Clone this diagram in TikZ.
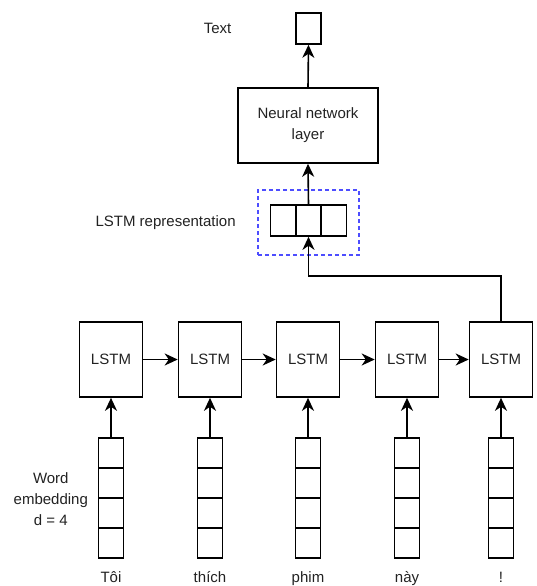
\documentclass[tikz,border=0pt]{standalone}
\usepackage{fontspec}
\setmainfont{Liberation Sans}
\usepackage{xcolor}
\usetikzlibrary{arrows.meta,positioning,calc}
\definecolor{FrameBlue}{HTML}{4D4DFF}
\definecolor{Ink}{HTML}{222222}

\begin{document}
\begin{tikzpicture}[x=1pt, y=-1pt, line width=1.6pt,
    lbl/.style={font=\fontsize{15}{21}\selectfont, text=Ink, align=center, inner sep=0pt},
    cell/.style={draw, minimum width=25pt, minimum height=30pt, inner sep=0pt},
    lstmbox/.style={draw, minimum width=63pt, minimum height=75pt, text=Ink, font=\fontsize{15}{18}\selectfont},
    arr/.style={-{Stealth[length=13pt, width=12pt, inset=4pt]}}]
  \useasboundingbox (0,0) rectangle (537,586);

  % LSTM cells, the embedding columns under them and the words
  \foreach \i/\x/\w in {1/111/Tôi, 2/210/thích, 3/308/phim, 4/407/này, 5/501/!} {
    \node[lstmbox] (l\i) at (\x,359.5) {LSTM};
    \foreach \j in {1,...,4}
      \node[cell] (e\i\j) at (\x,423+30*\j) {};
    \draw[arr] (e\i1.north) -- (l\i.south);
    \node[lbl, anchor=base] (w\i) at (\x,582) {\w};
  }
  \foreach \i in {1,...,4} {
    \pgfmathtruncatemacro{\n}{\i+1}
    \draw[arr] (l\i) -- (l\n);
  }
  \node[lbl, left=9pt of e12.south west] (emb) {Word\\embedding\\d = 4};

  % representation vector
  \foreach \k/\x in {1/283, 2/308.5, 3/334}
    \node[cell, minimum height=31pt] (r\k) at (\x,220.5) {};
  \node[draw=FrameBlue, line width=1.1pt, dash pattern=on 4pt off 3pt,
        minimum width=101pt, minimum height=65pt] (frame) at (308.5,222.5) {};
  \node[lbl, left=21pt of frame] (replbl) {LSTM representation};
  \draw[arr] (l5.north) -- ++(0,-45) -| (r2.south);

  % output layer
  \node[draw, lbl, minimum width=140pt, minimum height=75pt] (nn) at (308,125.5) {Neural network\\layer};
  \node[cell, minimum height=31pt] (out) at (308.5,28.5) {};
  \node[lbl, left=63pt of out] (txt) {Text};
  \draw[arr] (r2.north) -- (nn.south);
  \draw[arr] (nn.north) -- (out.south);
\end{tikzpicture}
\end{document}
